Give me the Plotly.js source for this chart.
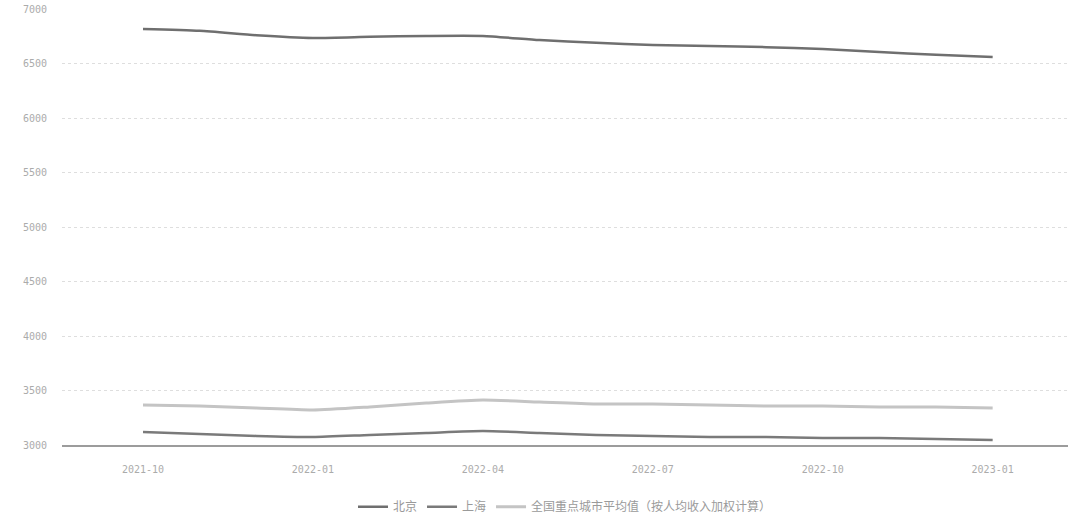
<!DOCTYPE html>
<html>
<head>
<meta charset="utf-8">
<script src="https://cdn.plot.ly/plotly-3.0.1.min.js"></script>
<style>
html,body{margin:0;padding:0;background:#fff;}
#chart{width:1072px;height:517px;}
</style>
</head>
<body>
<div id="chart"></div>
<script>
const months = ["2021-10","2021-11","2021-12","2022-01","2022-02","2022-03","2022-04","2022-05","2022-06","2022-07","2022-08","2022-09","2022-10","2022-11","2022-12","2023-01"];
const tickLabels = ["2021-10","2022-01","2022-04","2022-07","2022-10","2023-01"];
const seriesNames = ["北京","上海","全国重点城市平均值（按人均收入加权计算）"];
const seriesA = [6817,6800,6760,6735,6745,6753,6753,6715,6690,6670,6660,6650,6633,6605,6580,6560];
const seriesB = [3119,3101,3083,3073,3092,3110,3128,3110,3092,3083,3073,3073,3064,3064,3055,3046];
const seriesC = [3367,3358,3339,3321,3349,3385,3413,3394,3376,3376,3367,3358,3358,3349,3349,3340];
const yTicks = [3000,3500,4000,4500,5000,5500,6000,6500,7000];

const traces = [
  {x: months, y: seriesA, name: seriesNames[0], type: 'scatter', mode: 'lines',
   line: {color: '#6f6f6f', width: 2.5, shape: 'spline', smoothing: 0.6}},
  {x: months, y: seriesB, name: seriesNames[1], type: 'scatter', mode: 'lines',
   line: {color: '#7a7a7a', width: 2.5, shape: 'spline', smoothing: 0.6}},
  {x: months, y: seriesC, name: seriesNames[2], type: 'scatter', mode: 'lines',
   line: {color: '#c4c4c4', width: 3, shape: 'spline', smoothing: 0.6}}
];

const tickFont = {family: 'DejaVu Sans Mono, monospace', size: 10, color: '#ababab'};

const layout = {
  width: 1072, height: 517,
  margin: {l: 62, r: 4, t: 9, b: 72, autoexpand: false},
  paper_bgcolor: '#ffffff', plot_bgcolor: '#ffffff',
  font: {family: 'Noto Sans CJK SC, Noto Sans, sans-serif', color: '#a8a8a8', size: 10},
  showlegend: true,
  legend: {orientation: 'h', x: 0.5, xanchor: 'center', yref: 'container', y: 0.02, yanchor: 'middle',
    font: {size: 12, color: '#9a9a9a'}, itemwidth: 30},
  xaxis: {
    type: 'category', range: [-1.43, 16.33], automargin: false,
    tickvals: tickLabels, ticktext: tickLabels,
    showgrid: false, showline: true, linecolor: '#9c9c9c', linewidth: 1.5,
    ticks: '', tickfont: tickFont, ticklabelstandoff: 14, zeroline: false
  },
  yaxis: {
    range: [3000, 7000], tickvals: yTicks, automargin: false,
    showgrid: true, gridcolor: '#dedede', griddash: 'dot', gridwidth: 1,
    showline: false, zeroline: false, ticks: '',
    tickfont: tickFont, ticklabelstandoff: 14
  }
};

Plotly.newPlot('chart', traces, layout, {displayModeBar: false, staticPlot: true});
</script>
</body>
</html>
